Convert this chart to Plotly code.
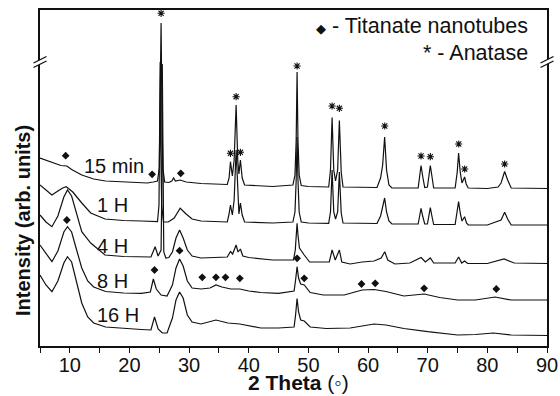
import plotly.graph_objects as go

# ---------------- data (2-theta in degrees, intensity in arb. units) ----------------
theta_15min = [5, 7, 8.5, 9.5, 10.3, 12, 14, 16, 20, 23, 24.0, 24.7, 25.0, 25.15, 25.3, 25.45, 25.6, 25.9,
               26.6, 27.1, 27.4, 27.7, 28.5, 29.5, 32, 36.4, 36.7, 36.93, 37.25, 37.55, 37.88, 38.15, 38.35,
               38.6, 38.9, 39.3, 44, 47.4, 47.75, 47.95, 48.1, 48.25, 48.45, 48.8, 50, 53.4, 53.7, 53.97,
               54.25, 54.55, 54.9, 55.19, 55.5, 55.8, 61.5, 62.1, 62.45, 62.78, 63.1, 63.5, 64, 68.4, 68.65,
               68.88, 69.15, 69.5, 69.95, 70.2, 70.44, 70.7, 71.0, 74.6, 74.95, 75.18, 75.45, 75.75, 76.0,
               76.19, 76.45, 76.8, 80, 81.8, 82.3, 82.9, 83.4, 84, 90]
int_15min = [188, 184, 180.5, 180, 176.5, 171, 167, 165, 164, 163, 164, 165, 178, 231, 323, 231, 178, 164,
             163.5, 165, 168, 165, 166, 164, 162.5, 161.5, 168, 184.3, 170, 186, 241, 186, 172,
             186, 168, 161, 159.5, 161, 171, 206, 274, 206, 171, 160.5, 159.5, 159, 176, 228.5,
             176, 165, 176, 225.5, 174, 159, 158.5, 168, 181, 209, 176, 161, 158, 158, 170,
             180.5, 170, 158.5, 159, 170, 180.5, 170, 158, 158, 174, 193, 174, 163, 166,
             169, 162, 158, 157.5, 159, 163, 174.5, 166, 158, 157.5]

theta_1h = [5, 6, 7, 8, 8.8, 9.4, 10.5, 12, 13.5, 15.9, 19, 22, 24.7, 24.95, 25.05, 25.15, 25.25, 25.4, 25.7,
            26.5, 27.5, 28.5, 29.5, 30.5, 32, 36.4, 36.7, 36.93, 37.25, 37.55, 37.88, 38.15, 38.35, 38.6,
            38.9, 39.3, 44, 47.4, 47.75, 47.95, 48.1, 48.25, 48.45, 48.8, 50, 53.4, 53.7, 53.97, 54.25,
            54.55, 54.9, 55.19, 55.5, 55.8, 61.5, 62.1, 62.45, 62.78, 63.1, 63.5, 64, 68.4, 68.65, 68.88,
            69.15, 69.5, 69.95, 70.2, 70.44, 70.7, 71.0, 74.6, 74.95, 75.18, 75.45, 75.75, 76.19, 76.5,
            76.8, 80, 82.3, 82.9, 83.4, 84, 90]
int_1h = [161, 156, 151, 155, 158, 159.3, 154, 143, 133, 127, 125.5, 125, 124.3, 141, 196, 284, 196, 141, 124,
          124, 128, 137.7, 132, 127, 125, 124, 132, 141, 131, 146, 196, 146, 132, 143,
          131, 124, 123, 124, 134, 166, 209, 166, 134, 124, 123, 122.7, 134, 176, 134,
          127, 134, 174, 133, 123, 122.5, 130, 138, 148, 134, 125, 122, 122, 130, 137.7,
          130, 122, 122, 130, 138.3, 130, 121.5, 121.5, 133, 144.3, 133, 125, 129.3, 123,
          121, 121, 126, 133.7, 127, 121, 121]

theta_4h = [5, 6, 7, 8, 9, 9.6, 10.3, 11, 12, 13.5, 15.9, 19, 23.6, 24.3, 24.8, 25.3, 25.4, 25.5, 25.6, 25.75,
            26.1, 26.6, 27.2, 27.8, 28.4, 29.0, 29.7, 30.5, 32, 36.4, 36.93, 37.3, 37.88, 38.2, 38.6, 39.0,
            40, 44, 47.5, 47.8, 48.0, 48.1, 48.25, 48.5, 49.3, 50.2, 53.5, 53.97, 54.5, 55.19, 55.6, 57,
            59, 61, 62.2, 62.8, 63.3, 64.5, 67, 68.9, 69.6, 70.44, 71, 74.6, 75.18, 75.7, 76.19, 76.7,
            80, 82.8, 84.5, 90]
int_4h = [131, 124, 119.3, 130, 149, 156, 150, 136, 114.3, 103, 91, 89.5, 89, 99.3, 90, 96, 146, 282, 146, 94,
          88, 88.5, 94, 108, 116, 108, 96, 90, 88, 89, 94.5, 92, 101, 94, 97, 90,
          88.5, 86, 86, 96, 114, 122.7, 111, 98, 91, 84, 84, 96, 86, 96, 84, 82,
          84, 85, 88, 94.3, 86, 82, 83, 88.5, 84, 88, 83, 83, 89, 83, 85, 82.5,
          82.5, 87, 83, 82.5]

theta_8h = [5, 6, 7, 8, 9, 9.6, 10.3, 11, 12, 13, 14, 16, 19, 22, 23.5, 24.0, 24.5, 25.3, 26.3, 27.2, 27.8,
            28.4, 29.0, 29.7, 30.5, 32, 33.5, 34.5, 35.5, 37, 38.5, 40, 42, 45, 47.6, 47.85, 48.1, 48.35,
            48.7, 49.3, 50.3, 52.5, 56, 57.5, 59, 61, 63, 66, 69.4, 72, 75, 78, 81.3, 84, 90]
int_8h = [101, 92, 84.3, 95, 114, 119.3, 114, 99, 78, 65, 59, 54.5, 53, 52.7, 54, 67, 57, 51, 50, 61, 78,
          87, 80, 65, 58, 57, 58, 61, 59, 57, 57, 55, 53.5, 52.7, 55, 66, 79.3, 68,
          62, 61, 53.5, 51, 51, 53.5, 56, 56.5, 54.5, 50, 52, 48.5, 46, 46, 49, 46, 46]

theta_16h = [5, 6, 7, 8, 9, 9.6, 10.3, 11, 12, 13, 14, 16, 19, 22, 23.6, 24.2, 24.8, 25.5, 26.3, 27.2, 27.8,
             28.4, 29.0, 29.7, 30.5, 32, 34.5, 36.5, 38.5, 40, 42, 45, 47.6, 47.85, 48.1, 48.35, 48.7,
             49.3, 50.3, 53, 57, 59, 61, 63, 66, 70, 75, 78, 81, 84, 90]
int_16h = [71, 61, 54.3, 65, 83, 89.3, 84, 68, 43, 29, 23, 19, 17.5, 16.5, 16, 29, 17, 13, 13, 28, 46,
           54, 48, 31, 24, 22, 26, 23, 22, 20, 18, 18, 19, 31, 47.5, 34, 26,
           25, 19, 17.5, 18, 20, 22, 21, 17.5, 14.3, 11, 11.5, 13, 11, 10.5]

series_names = ["15 min", "1 H", "4 H", "8 H", "16 H"]

# peak markers: anatase (*) and titanate nanotubes (diamond)
star_theta = [25.3, 36.93, 37.88, 38.6, 48.1, 53.97, 55.19, 62.8, 68.88, 70.44, 75.2, 76.2, 82.9]
star_int = [332.7, 192.7, 249.3, 193.7, 280, 240, 237.7, 220, 190, 189.3, 202, 177, 182]
dia_theta = [9.3, 23.8, 28.6, 9.5, 24.2, 28.4, 32.2, 34.5, 36.1, 38.5, 48.1, 49.3, 58.9, 61.2, 69.4, 81.5]
dia_int = [190.3, 171.7, 172.7, 126, 76, 95.3, 68.7, 68.7, 68.7, 67.7, 87.7, 67.7, 62, 62.7, 57.7, 57]

x_tick_vals = [10, 20, 30, 40, 50, 60, 70, 80, 90]
x_tick_text = ["10", "20", "30", "40", "50", "60", "70", "80", "90"]

# ---------------- layout helpers ----------------
W, H = 560, 396
ML, MR, MT, MB = 40, 13, 10, 50
PW, PH = W - ML - MR, H - MT - MB
FONT = "Liberation Sans, Arial, sans-serif"
INK = "#111111"


def pxx(x):
    return (x - ML) / PW


def pxy(y):
    return (H - MB - y) / PH


fig = go.Figure()
for tt, ii, nm in zip([theta_15min, theta_1h, theta_4h, theta_8h, theta_16h],
                      [int_15min, int_1h, int_4h, int_8h, int_16h], series_names):
    fig.add_trace(go.Scatter(x=tt, y=ii, mode="lines", name=nm, showlegend=False, hoverinfo="skip",
                             line=dict(color=INK, width=1.2)))

fig.add_trace(go.Scatter(x=star_theta, y=star_int, mode="markers", showlegend=False, hoverinfo="skip",
                         cliponaxis=False,
                         marker=dict(symbol="asterisk-open", size=6, color=INK, line=dict(width=1.1, color=INK))))
fig.add_trace(go.Scatter(x=dia_theta, y=dia_int, mode="markers", showlegend=False, hoverinfo="skip",
                         marker=dict(symbol="diamond", size=6, color=INK, line=dict(width=0))))

# series labels
label_pos = [(12.1, 180), (14.3, 141), (14.15, 100.5), (14.15, 65), (14.15, 31.5)]
annotations = []
for nm, (lx, ly) in zip(series_names, label_pos):
    annotations.append(dict(x=lx, y=ly, xref="x", yref="y", text=nm, showarrow=False, xanchor="left",
                            yanchor="middle", font=dict(family=FONT, size=20, color=INK)))

# key text
annotations.append(dict(x=pxx(530), y=pxy(26), xref="paper", yref="paper", xanchor="right", yanchor="middle",
                        text='<span style="font-size:13px">◆</span> - Titanate nanotubes', showarrow=False,
                        font=dict(family=FONT, size=21.5, color=INK)))
annotations.append(dict(x=pxx(530), y=pxy(53), xref="paper", yref="paper", xanchor="right", yanchor="middle",
                        text="* - Anatase", showarrow=False, font=dict(family=FONT, size=21.5, color=INK)))
# axis titles
annotations.append(dict(x=pxx(298), y=pxy(382.5), xref="paper", yref="paper", xanchor="center", yanchor="middle",
                        text="<b>2 Theta</b> (◦)", showarrow=False,
                        font=dict(family=FONT, size=21, color=INK)))
annotations.append(dict(x=pxx(23), y=pxy(221), xref="paper", yref="paper", xanchor="center", yanchor="middle",
                        text="<b>Intensity (arb. units)</b>", textangle=-90, showarrow=False,
                        font=dict(family=FONT, size=20, color=INK)))

# axis-break marks on both vertical axes
shapes = []
for ax_x in (ML, W - MR):
    x0, x1 = ax_x - 6.5, ax_x + 6.5
    shapes.append(dict(type="path", xref="paper", yref="paper",
                       path=f"M {pxx(x0)},{pxy(63)} L {pxx(x1)},{pxy(56.5)} L {pxx(x1)},{pxy(61)} L {pxx(x0)},{pxy(67.5)} Z",
                       fillcolor="white", line=dict(width=0)))
    for dy in (0, 4.5):
        shapes.append(dict(type="line", xref="paper", yref="paper", x0=pxx(x0), y0=pxy(63 + dy),
                           x1=pxx(x1), y1=pxy(56.5 + dy), line=dict(color=INK, width=1.3)))

fig.update_layout(
    width=W, height=H, margin=dict(l=ML, r=MR, t=MT, b=MB, autoexpand=False),
    paper_bgcolor="white", plot_bgcolor="white",
    font=dict(family=FONT, size=20, color=INK),
    annotations=annotations, shapes=shapes,
    xaxis=dict(range=[5, 90], showgrid=False, zeroline=False, showline=True, mirror=True, automargin=False,
               linecolor=INK, linewidth=1.6, ticks="outside", ticklen=5, tickwidth=1.4, tickcolor=INK,
               ticklabelstandoff=-5,
               tickvals=x_tick_vals, ticktext=x_tick_text, tickfont=dict(family=FONT, size=20, color=INK),
               minor=dict(tickvals=[5, 15, 25, 35, 45, 55, 65, 75, 85], ticks="outside", ticklen=5,
                          tickwidth=1.4, tickcolor=INK)),
    yaxis=dict(range=[0, PH], showgrid=False, zeroline=False, showline=True, mirror=True, automargin=False,
               linecolor=INK, linewidth=1.6, ticks="", showticklabels=False),
)

fig.write_html("out.html", config={"displayModeBar": False},
               post_script="document.body.style.margin='0';document.body.style.overflow='hidden';")
